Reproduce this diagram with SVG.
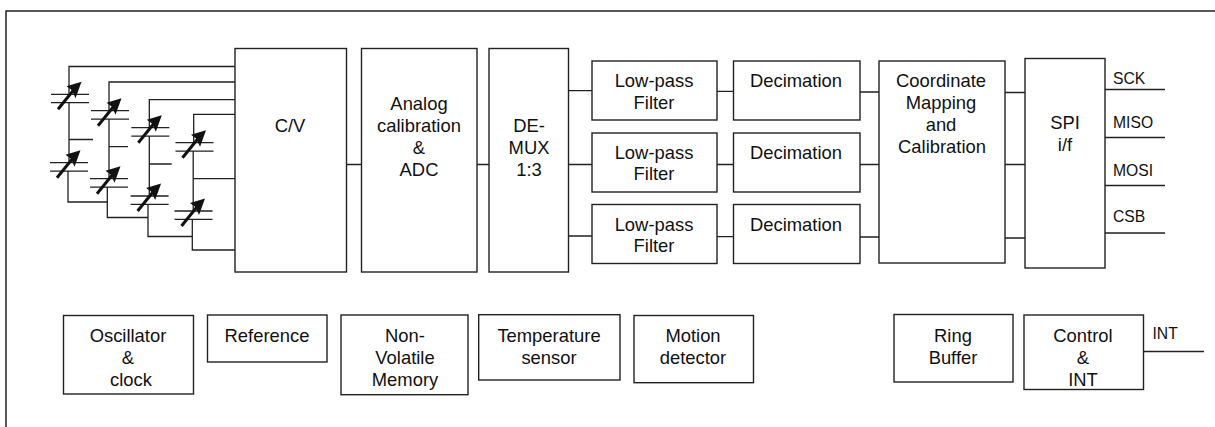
<svg xmlns="http://www.w3.org/2000/svg" width="1215" height="427" viewBox="0 0 1215 427">
<style>
.b{fill:#fff;stroke:#222;stroke-width:1.4}
.c{fill:none;stroke:#222;stroke-width:1.3}
.p{fill:none;stroke:#222;stroke-width:1.3}
.a{fill:none;stroke:#111;stroke-width:3}
.h{fill:#111;stroke:none}
text{font-family:"Liberation Sans",Arial,sans-serif;font-size:18.4px;fill:#111;text-anchor:middle}
.l{text-anchor:start;font-size:15.7px}
</style>
<defs>
<g id="cap">
<path class="p" d="M-18 0H20M-18 8.400H20"/>
<path class="a" d="M-11 15L6-6"/>
<path class="h" d="M12.500-12.500L-2.500-8 3-4 6.500 4Z"/>
</g>
</defs>
<path d="M6 427V11H1215" fill="none" stroke="#222" stroke-width="1.500"/>
<g id="connectors">
<path class="c" d="M235 66.500H69V94M69 103V162.500M69 139.500H93M68 171V202H107"/>
<path class="c" d="M235 82H109V110.500M109 119V178.500M109 146.700H128M107.300 187V217.500H148"/>
<path class="c" d="M235 99.700H149.300V127.500M149.300 136V196M149.300 164H171.700M148 204.500V236.500H192.300"/>
<path class="c" d="M235 114.300H193.700V142.500M193.200 151V211M193.200 178.700H235M192.300 219.500V250H235"/>
<path class="c" d="M346.500 164.500H361.500M477 164.500H489M568.500 90.700H592M568.500 164.500H592M568.500 236H592M717 91.300H733.500M717 164.500H733.500M717 236.700H733.500M860 92H879M860 164.500H879M860 237H879M1005 92.500H1025M1005 164.500H1025M1005 238H1025"/>
<path class="c" d="M1104 89.500H1165M1104 137.500H1165M1104 185.500H1165M1104 233H1165M1143.500 351.500H1204"/>
</g>
<g id="capacitors">
<use href="#cap" x="69" y="94.300"/>
<use href="#cap" x="68" y="162.700"/>
<use href="#cap" x="109" y="110.700"/>
<use href="#cap" x="108" y="178.700"/>
<use href="#cap" x="149.300" y="127.700"/>
<use href="#cap" x="148.600" y="196"/>
<use href="#cap" x="193.500" y="142.700"/>
<use href="#cap" x="192.500" y="211"/>
</g>
<g id="cv"><rect class="b" x="235" y="48.500" width="111.500" height="223.500"/><text x="290" y="132">C/V</text></g>
<g id="adc"><rect class="b" x="361.500" y="48.500" width="115.500" height="223.500"/><text x="419" y="110">Analog</text><text x="419" y="132">calibration</text><text x="419" y="154">&amp;</text><text x="419" y="176">ADC</text></g>
<g id="demux"><rect class="b" x="489" y="48.500" width="79.500" height="223.500"/><text x="529" y="132">DE-</text><text x="529" y="154">MUX</text><text x="529" y="176">1:3</text></g>
<g id="lpf1"><rect class="b" x="592" y="61" width="125" height="59"/><text x="654" y="87">Low-pass</text><text x="654" y="109">Filter</text></g>
<g id="lpf2"><rect class="b" x="592" y="133" width="125" height="59"/><text x="654" y="159">Low-pass</text><text x="654" y="180">Filter</text></g>
<g id="lpf3"><rect class="b" x="592" y="204.500" width="125" height="59"/><text x="654" y="231">Low-pass</text><text x="654" y="252">Filter</text></g>
<g id="dec1"><rect class="b" x="733.500" y="61" width="126.500" height="59"/><text x="796" y="87">Decimation</text></g>
<g id="dec2"><rect class="b" x="733.500" y="133" width="126.500" height="59"/><text x="796" y="159">Decimation</text></g>
<g id="dec3"><rect class="b" x="733.500" y="204.500" width="126.500" height="59"/><text x="796" y="231">Decimation</text></g>
<g id="coord"><rect class="b" x="879" y="61" width="126" height="202"/><text x="941" y="87">Coordinate</text><text x="941" y="109">Mapping</text><text x="941" y="131">and</text><text x="942" y="153">Calibration</text></g>
<g id="spi"><rect class="b" x="1025" y="58.500" width="80" height="209.500"/><text x="1065" y="129">SPI</text><text x="1065" y="151">i/f</text></g>
<g id="pins"><text class="l" x="1113" y="84">SCK</text><text class="l" x="1113" y="128">MISO</text><text class="l" x="1113" y="176">MOSI</text><text class="l" x="1113" y="222">CSB</text><text class="l" x="1152.500" y="339">INT</text></g>
<g id="osc"><rect class="b" x="63.500" y="315.500" width="130" height="78.500"/><text x="128" y="342">Oscillator</text><text x="128" y="364">&amp;</text><text x="131" y="386">clock</text></g>
<g id="ref"><rect class="b" x="207.500" y="315" width="119.500" height="47"/><text x="267" y="342">Reference</text></g>
<g id="nvm"><rect class="b" x="341" y="315" width="127" height="79.700"/><text x="405" y="342">Non-</text><text x="405" y="364">Volatile</text><text x="405" y="386">Memory</text></g>
<g id="temp"><rect class="b" x="478.700" y="314.700" width="141.300" height="65.300"/><text x="549" y="342">Temperature</text><text x="549" y="364">sensor</text></g>
<g id="motion"><rect class="b" x="634" y="315.500" width="119.500" height="67.200"/><text x="693" y="342">Motion</text><text x="693" y="364">detector</text></g>
<g id="ring"><rect class="b" x="894" y="314.500" width="119" height="67.500"/><text x="953" y="342">Ring</text><text x="953" y="364">Buffer</text></g>
<g id="control"><rect class="b" x="1024" y="315" width="119.500" height="74.500"/><text x="1083" y="342">Control</text><text x="1083" y="364">&amp;</text><text x="1083" y="386">INT</text></g>
</svg>
